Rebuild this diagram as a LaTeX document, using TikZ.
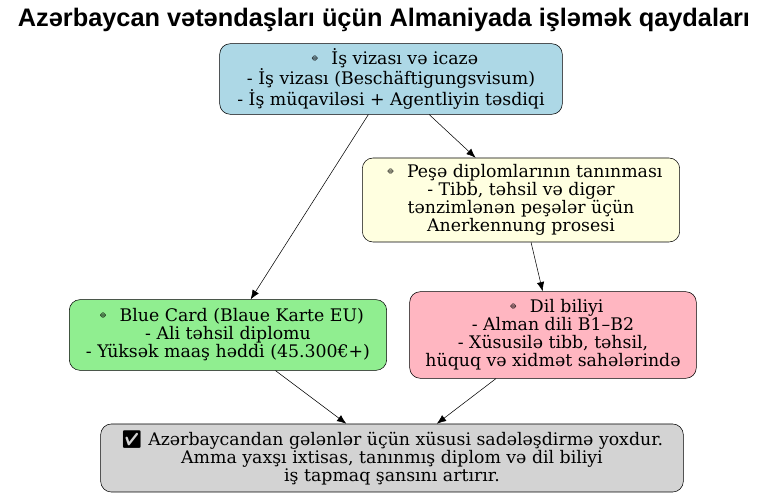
\documentclass[tikz,border=0pt]{standalone}
\usepackage{fontspec}
\setmainfont{DejaVu Serif}
\newfontfamily\titlefont{Liberation Sans}
\newfontfamily\emo{Noto Emoji}
\usetikzlibrary{positioning,arrows.meta}
\begin{document}
\begin{tikzpicture}[
	                   x = 0.75pt,
	                   y = -0.75pt,
	      box/.style = {draw, rounded corners=8pt, align=center, font=\fontsize{13}{13.5}\selectfont, inner sep=1pt},
	      link/.style = {draw, -{Latex[length=7pt,width=5.5pt]}},
	                     ]
		\useasboundingbox (0,0) rectangle (768,498);
		\node[font=\titlefont\bfseries\fontsize{19}{20}\selectfont] (title) at (384,20) {Azərbaycan vətəndaşları üçün Almaniyada işləmək qaydaları};
		\node[box, fill={rgb,255:red,173;green,216;blue,230}, minimum width=257pt, minimum height=53pt] (visa) at (391,79)
		    {{\emo 🔹} İş vizası və icazə\\- İş vizası (Beschäftigungsvisum)\\- İş müqaviləsi + Agentliyin təsdiqi};
		\node[box, fill={rgb,255:red,255;green,255;blue,224}, minimum width=238pt, minimum height=63pt] (diploma) at (521,200)
		    {{\emo 🔹} Peşə diplomlarının tanınması\\- Tibb, təhsil və digər\\tənzimlənən peşələr üçün\\Anerkennung prosesi};
		\node[box, fill={rgb,255:red,144;green,238;blue,144}, minimum width=238pt, minimum height=53pt] (card) at (228,335)
		    {{\emo 🔹} Blue Card (Blaue Karte EU)\\- Ali təhsil diplomu\\- Yüksək maaş həddi (45.300€+)};
		\node[box, fill={rgb,255:red,255;green,182;blue,193}, minimum width=215pt, minimum height=65pt] (lang) at (553,335)
		    {{\emo 🔹} Dil biliyi\\- Alman dili B1–B2\\- Xüsusilə tibb, təhsil,\\hüquq və xidmət sahələrində};
		\node[box, fill={rgb,255:red,211;green,211;blue,211}, minimum width=437pt, minimum height=51pt] (result) at (392,458)
		    {{\emo ✅} Azərbaycandan gələnlər üçün xüsusi sadələşdirmə yoxdur.\\Amma yaxşı ixtisas, tanınmış diplom və dil biliyi\\iş tapmaq şansını artırır.};
		\draw[link] (visa) -- (card);
		\draw[link] (visa) -- (diploma);
		\draw[link] (diploma) -- (lang);
		\draw[link] (card) -- (result);
		\draw[link] (lang) -- (result);
\end{tikzpicture}
\end{document}
